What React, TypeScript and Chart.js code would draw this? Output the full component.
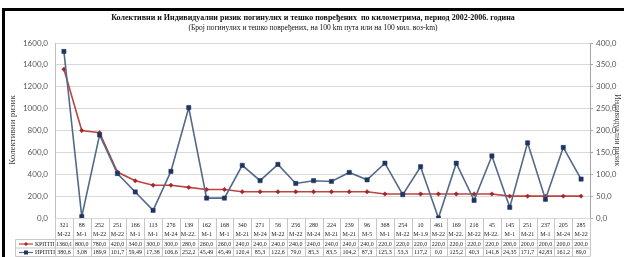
import React, { useEffect, useRef } from "react";
import { Chart, registerables } from "chart.js";

Chart.register(...registerables);

const titleText =
  "Колективни и Индивидуални ризик погинулих и тешко повређених  по километрима, период 2002-2006. година";
const subtitleText =
  "(Број погинулих и тешко повређених, на 100 km пута или на 100 мил. воз-km)";
const leftAxisTitle = "Колективни ризик";
const rightAxisTitle = "Индивидуални ризик";

const sectionNumbers = [
  "321", "88", "252", "251", "166", "113", "276", "139", "162", "168",
  "340", "271", "56", "256", "280", "224", "239", "96", "368", "254",
  "10", "461", "169", "216", "45", "145", "251", "237", "205", "285",
];
const roadNames = [
  "M-22", "M-1", "M-22", "M-22", "M-1", "M-1", "M-24", "M-22.1", "M-1", "M-1",
  "M-21", "M-24", "M-22", "M-22", "M-24", "M-21", "M-21", "M-5", "M-1", "M-22",
  "M-1.9", "M-22", "M-22.1", "M-22", "M-22.1", "M-1", "M-21", "M-1", "M-24", "M-22",
];
const collectiveLabel = "КРПТП";
const individualLabel = "ИРПТП";
const collectiveRisk = [
  1360, 800, 780, 420, 340, 300, 300, 280, 260, 260,
  240, 240, 240, 240, 240, 240, 240, 240, 220, 220,
  220, 220, 220, 220, 220, 200, 200, 200, 200, 200,
];
const individualRisk = [
  380.6, 3.08, 189.9, 101.7, 59.49, 17.38, 106.6, 252.2, 45.49, 45.49,
  120.4, 85.3, 122.6, 79.0, 85.3, 83.5, 104.2, 87.3, 125.3, 53.3,
  117.2, 0.0, 125.2, 40.3, 141.8, 24.35, 171.7, 42.83, 161.2, 89.0,
];
const leftMax = 1600;
const leftStep = 200;
const rightMax = 400;
const rightStep = 50;

const RED = "#BC4540";
const RED_MARK = "#A3262A";
const BLUE = "#52698A";
const BLUE_MARK = "#1F3560";
const GRID = "#D9D9D9";
const TABLE_LINE = "#C8C8C8";

const fmt = (v: number) =>
  (Number.isInteger(v) ? v.toFixed(1) : String(v)).replace(".", ",");

const decorPlugin = {
  id: "decor",
  beforeDraw(chart: any) {
    const ctx = chart.ctx as CanvasRenderingContext2D;
    ctx.save();
    ctx.fillStyle = "#ffffff";
    ctx.fillRect(0, 0, chart.width, chart.height);
    ctx.fillStyle = "#000000";
    ctx.fillRect(2, 8, 622, 3);
    ctx.fillRect(2, 8, 3, chart.height - 8);

    ctx.fillStyle = "#111";
    ctx.textAlign = "center";
    ctx.textBaseline = "middle";
    ctx.font = "bold 8px 'Liberation Serif'";
    ctx.fillText(titleText, 313, 18);
    ctx.font = "7.5px 'Liberation Serif'";
    ctx.fillText(subtitleText, 313, 28);

    ctx.fillStyle = "#444";
    ctx.font = "9px 'Liberation Serif'";
    ctx.save();
    ctx.translate(13, 130);
    ctx.rotate(-Math.PI / 2);
    ctx.fillText(leftAxisTitle, 0, 0);
    ctx.restore();
    ctx.font = "8px 'Liberation Serif'";
    ctx.save();
    ctx.translate(617, 130);
    ctx.rotate(Math.PI / 2);
    ctx.fillText(rightAxisTitle, 0, 0);
    ctx.restore();
    ctx.restore();
  },
  afterDraw(chart: any) {
    const ctx = chart.ctx as CanvasRenderingContext2D;
    const xs = chart.scales.x;
    const area = chart.chartArea;
    const n = sectionNumbers.length;
    const step = xs.getPixelForValue(1) - xs.getPixelForValue(0);
    const top = area.bottom;
    const rowSep = 239.5;
    const rowSep2 = 248;
    const bottom = 256.5;
    const legendLeft = 15.5;
    ctx.save();
    ctx.strokeStyle = TABLE_LINE;
    ctx.lineWidth = 1;
    ctx.beginPath();
    for (let i = 0; i <= n; i++) {
      const x = Math.round(xs.getPixelForValue(0) - step / 2 + i * step) + 0.5;
      ctx.moveTo(x, top);
      ctx.lineTo(x, bottom);
    }
    ctx.moveTo(legendLeft, rowSep);
    ctx.lineTo(area.right, rowSep);
    ctx.moveTo(legendLeft, rowSep2);
    ctx.lineTo(area.right, rowSep2);
    ctx.moveTo(legendLeft, bottom);
    ctx.lineTo(area.right, bottom);
    ctx.moveTo(legendLeft, rowSep);
    ctx.lineTo(legendLeft, bottom);
    ctx.stroke();

    ctx.fillStyle = "#222";
    ctx.font = "6px 'Liberation Serif'";
    ctx.textBaseline = "middle";
    const rows: [string[], number][] = [
      [sectionNumbers, 225],
      [roadNames, 234],
      [collectiveRisk.map(fmt), 244],
      [individualRisk.map(fmt), 252.5],
    ];
    for (const [vals, y] of rows) {
      for (let i = 0; i < n; i++) {
        const cx = xs.getPixelForValue(i);
        const l = cx - step / 2 + 1;
        const w = step - 2.5;
        const text = vals[i];
        const tw = ctx.measureText(text).width;
        ctx.save();
        ctx.beginPath();
        ctx.rect(l, y - 5, w, 10);
        ctx.clip();
        if (tw > w) {
          ctx.textAlign = "left";
          ctx.fillText(text, l, y);
        } else {
          ctx.textAlign = "center";
          ctx.fillText(text, cx, y);
        }
        ctx.restore();
      }
    }

    // legend keys
    const keyY1 = 244;
    const keyY2 = 252.5;
    ctx.lineWidth = 1.2;
    ctx.strokeStyle = RED;
    ctx.beginPath();
    ctx.moveTo(19, keyY1);
    ctx.lineTo(33, keyY1);
    ctx.stroke();
    ctx.fillStyle = RED_MARK;
    ctx.beginPath();
    ctx.moveTo(26, keyY1 - 2);
    ctx.lineTo(28, keyY1);
    ctx.lineTo(26, keyY1 + 2);
    ctx.lineTo(24, keyY1);
    ctx.closePath();
    ctx.fill();
    ctx.strokeStyle = BLUE;
    ctx.beginPath();
    ctx.moveTo(19, keyY2);
    ctx.lineTo(33, keyY2);
    ctx.stroke();
    ctx.fillStyle = BLUE_MARK;
    ctx.fillRect(24, keyY2 - 2, 4, 4);

    ctx.fillStyle = "#222";
    ctx.textAlign = "left";
    ctx.font = "6px 'Liberation Serif'";
    ctx.fillText(collectiveLabel, 35, keyY1);
    ctx.fillText(individualLabel, 35, keyY2);
    ctx.restore();
  },
};

export default function App() {
  const ref = useRef<HTMLCanvasElement | null>(null);
  useEffect(() => {
    if (!ref.current) return;
    const chart = new Chart(ref.current, {
      type: "line",
      data: {
        labels: sectionNumbers,
        datasets: [
          {
            label: individualLabel,
            data: individualRisk,
            yAxisID: "y1",
            borderColor: BLUE,
            borderWidth: 1.6,
            pointStyle: "rect",
            pointRadius: 3,
            pointBackgroundColor: BLUE_MARK,
            pointBorderColor: BLUE_MARK,
            pointBorderWidth: 0.5,
            tension: 0,
            order: 1,
          },
          {
            label: collectiveLabel,
            data: collectiveRisk,
            yAxisID: "y",
            borderColor: RED,
            borderWidth: 1.6,
            pointStyle: "rectRot",
            pointRadius: 2.2,
            pointBackgroundColor: RED_MARK,
            pointBorderColor: RED_MARK,
            pointBorderWidth: 0.5,
            tension: 0,
            order: 2,
          },
        ],
      },
      options: {
        responsive: false,
        animation: false,
        layout: { padding: { top: 43, left: 0, right: 0, bottom: 0 } },
        plugins: {
          legend: { display: false },
          title: { display: false },
          tooltip: { enabled: false },
        },
        scales: {
          x: {
            type: "category",
            offset: true,
            grid: { display: false },
            border: { display: false },
            ticks: { display: false },
            afterFit: (s: any) => {
              s.height = 39;
            },
          },
          y: {
            position: "left",
            min: 0,
            max: leftMax,
            ticks: {
              stepSize: leftStep,
              color: "#595959",
              font: { family: "Lato", size: 8 },
              padding: 7,
              callback: (v: any) => Number(v).toFixed(1).replace(".", ","),
            },
            grid: { color: GRID, lineWidth: 1, drawTicks: false },
            border: { color: "#BFBFBF" },
            afterFit: (s: any) => {
              s.width = 55;
            },
          },
          y1: {
            position: "right",
            min: 0,
            max: rightMax,
            ticks: {
              stepSize: rightStep,
              color: "#595959",
              font: { family: "Lato", size: 8 },
              padding: 3,
              callback: (v: any) => Number(v).toFixed(1).replace(".", ","),
            },
            grid: {
              drawOnChartArea: false,
              color: "#A6A6A6",
              drawTicks: true,
              tickLength: 3,
            },
            border: { color: "#A6A6A6" },
            afterFit: (s: any) => {
              s.width = 36;
            },
          },
        },
      },
      plugins: [decorPlugin],
    });
    return () => chart.destroy();
  }, []);
  return (
    <div style={{ position: "absolute", left: 0, top: 0, width: 626, height: 257 }}>
      <canvas ref={ref} width={626} height={257} />
    </div>
  );
}
